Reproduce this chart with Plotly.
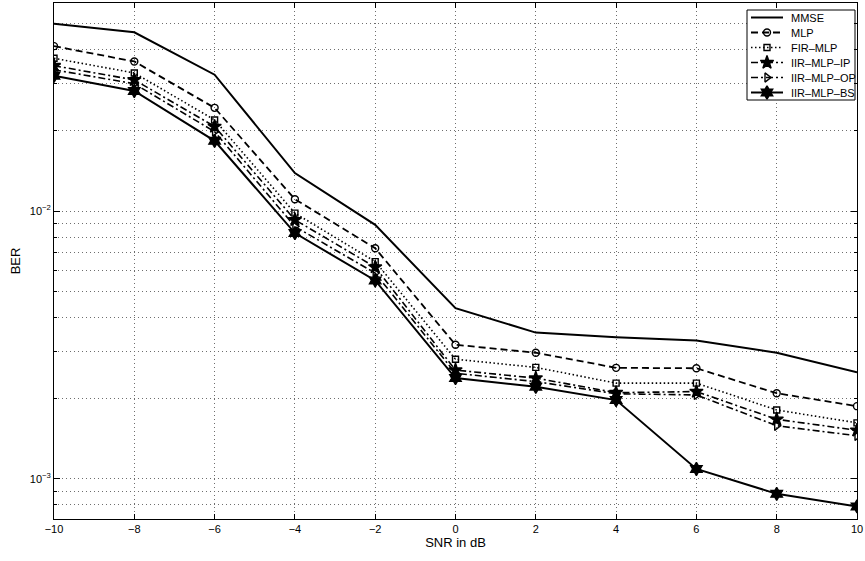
import plotly.graph_objects as go

# SNR sweep (dB)
snr = [-10, -8, -6, -4, -2, 0, 2, 4, 6, 8, 10]

# Bit error rate of each equalizer
ber_mmse = [0.0501, 0.0465, 0.0323, 0.01387, 0.00889, 0.00434, 0.00352, 0.00338, 0.00329, 0.00296, 0.00250]
ber_mlp = [0.0413, 0.0362, 0.0243, 0.01108, 0.00727, 0.00317, 0.00296, 0.00260, 0.00259, 0.00209, 0.00187]
ber_fir_mlp = [0.0372, 0.0328, 0.0219, 0.00983, 0.00648, 0.00280, 0.00261, 0.00228, 0.00228, 0.00181, 0.00162]
ber_iir_ip = [0.0349, 0.0309, 0.0207, 0.00928, 0.00618, 0.00255, 0.00238, 0.00210, 0.00212, 0.00167, 0.00152]
ber_iir_op = [0.0337, 0.0299, 0.0198, 0.00876, 0.00587, 0.00248, 0.00231, 0.00208, 0.00206, 0.00158, 0.00145]
ber_iir_bs = [0.0320, 0.0281, 0.0183, 0.00828, 0.00551, 0.00238, 0.00221, 0.00197, 0.00109, 0.00088, 0.00079]

series_names = ["MMSE", "MLP", "FIR\u2013MLP", "IIR\u2013MLP\u2013IP", "IIR\u2013MLP\u2013OP", "IIR\u2013MLP\u2013BS"]

x_ticks = [-10, -8, -6, -4, -2, 0, 2, 4, 6, 8, 10]
y_major = [0.001, 0.01]
y_major_text = ["10<sup>\u22123</sup>", "10<sup>\u22122</sup>"]
y_minor = [0.0008, 0.0009, 0.002, 0.003, 0.004, 0.005, 0.006, 0.007, 0.008, 0.009,
           0.02, 0.03, 0.04, 0.05]

FONT = "Liberation Sans, Arial, Helvetica, sans-serif"
BLACK = "#000000"
GRID = "#6e6e6e"
GRID_DASH = "1px,3px"

# figure geometry (pixels)
W, H = 865, 561
M_L, M_R, M_T, M_B = 54, 8, 3, 42

# line styles: (dash, width, marker symbol, marker size)
styles = [
    ("solid", 2.0, None, 0),
    ("7px,4px", 1.8, "circle-open", 7),
    ("1.5px,2.5px", 1.6, "square-open", 6),
    ("7px,3px,2px,3px", 1.6, "star", 10),
    ("7px,3px,2px,3px", 1.6, "triangle-right-open", 8),
    ("solid", 2.0, "hexagram", 10),
]
values = [ber_mmse, ber_mlp, ber_fir_mlp, ber_iir_ip, ber_iir_op, ber_iir_bs]


def marker_style(symbol, size):
    return dict(color=BLACK, size=size, symbol=symbol or "circle",
                line=dict(color=BLACK, width=1.4))


fig = go.Figure()
for name, vals, (dash, lw, symbol, msize) in zip(series_names, values, styles):
    fig.add_trace(go.Scatter(
        x=snr, y=vals, name=name,
        mode="lines" if symbol is None else "lines+markers",
        line=dict(color=BLACK, width=lw, dash=dash),
        marker=marker_style(symbol, msize),
        showlegend=False, hoverinfo="x+y+name",
    ))

# ---- boxed legend in the upper-right corner, laid out on a pixel overlay ----
px_left, px_right = M_L, W - M_R
px_top, px_bottom = M_T, H - M_B
leg_x0, leg_x1 = 747, 855
leg_y0, leg_y1 = 10, 100
row_y0, row_step = 17.5, 15.0
sample_x0, sample_x1 = 751, 783
text_x = 789

# white legend panel with a black frame
fig.add_trace(go.Scatter(
    x=[leg_x0, leg_x1, leg_x1, leg_x0, leg_x0],
    y=[leg_y0, leg_y0, leg_y1, leg_y1, leg_y0],
    xaxis="x2", yaxis="y2", mode="lines", fill="toself", fillcolor="white",
    line=dict(color=BLACK, width=1), showlegend=False, hoverinfo="skip",
))

for i, (name, (dash, lw, symbol, msize)) in enumerate(zip(series_names, styles)):
    ry = row_y0 + i * row_step
    fig.add_trace(go.Scatter(
        x=[sample_x0, sample_x1], y=[ry, ry], xaxis="x2", yaxis="y2",
        mode="lines", line=dict(color=BLACK, width=lw, dash=dash),
        showlegend=False, hoverinfo="skip",
    ))
    if symbol is not None:
        fig.add_trace(go.Scatter(
            x=[(sample_x0 + sample_x1) / 2], y=[ry], xaxis="x2", yaxis="y2",
            mode="markers", marker=marker_style(symbol, msize),
            showlegend=False, hoverinfo="skip",
        ))
    fig.add_annotation(x=text_x, y=ry, xref="x2", yref="y2", text=name,
                       showarrow=False, xanchor="left", yanchor="middle",
                       font=dict(family=FONT, size=11, color=BLACK))

fig.update_layout(
    width=W, height=H,
    margin=dict(l=M_L, r=M_R, t=M_T, b=M_B),
    paper_bgcolor="white", plot_bgcolor="white",
    font=dict(family=FONT, size=11, color=BLACK),
    showlegend=False,
    xaxis=dict(
        range=[-10, 10], tickvals=x_ticks,
        ticks="inside", ticklen=5, tickcolor=BLACK, tickwidth=1,
        showline=True, linecolor=BLACK, linewidth=1, mirror="allticks",
        showgrid=True, gridcolor=GRID, gridwidth=1, griddash=GRID_DASH,
        zeroline=False,
        tickfont=dict(family=FONT, size=11, color=BLACK),
        title=dict(text="SNR in dB", font=dict(family=FONT, size=13, color=BLACK), standoff=3),
    ),
    yaxis=dict(
        type="log", range=[-3.1494, -1.223],
        tickvals=y_major, ticktext=y_major_text,
        ticks="inside", ticklen=6, tickcolor=BLACK, tickwidth=1,
        showline=True, linecolor=BLACK, linewidth=1, mirror="allticks",
        showgrid=True, gridcolor=GRID, gridwidth=1, griddash=GRID_DASH,
        minor=dict(tickvals=y_minor, ticks="inside", ticklen=3, tickcolor=BLACK,
                   showgrid=True, gridcolor=GRID, gridwidth=1, griddash=GRID_DASH),
        zeroline=False,
        tickfont=dict(family=FONT, size=11, color=BLACK),
        title=dict(text="BER", font=dict(family=FONT, size=13, color=BLACK), standoff=6),
    ),
    xaxis2=dict(overlaying="x", anchor="y2", range=[px_left, px_right],
                visible=False, fixedrange=True),
    yaxis2=dict(overlaying="y", anchor="x2", range=[px_bottom, px_top],
                visible=False, fixedrange=True),
)

fig.write_html("out.html")
